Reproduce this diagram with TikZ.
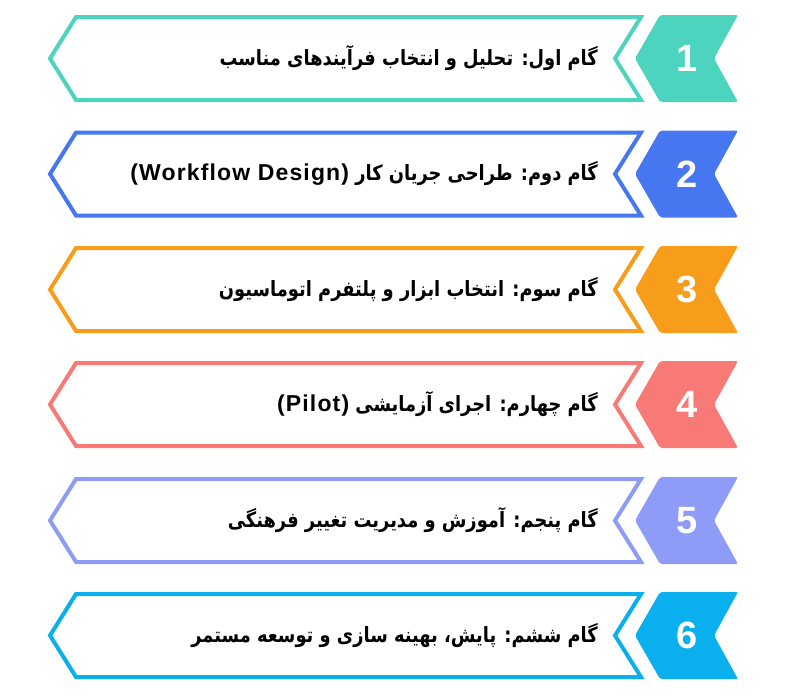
\documentclass[tikz,border=0pt]{standalone}
\usepackage{fontspec}
\setmainfont{Liberation Sans}
\newfontfamily\farsifont[Script=Arabic, FakeStretch=0.85]{DejaVu Sans}
\newfontfamily\latinfont[LetterSpace=5]{Liberation Sans}
\TeXXeTstate=1
\definecolor{stepteal}{HTML}{4DD4BE}
\definecolor{stepblue}{HTML}{4676F0}
\definecolor{steporange}{HTML}{F89C1C}
\definecolor{stepred}{HTML}{F87A76}
\definecolor{stepviolet}{HTML}{8E9CF8}
\definecolor{stepsky}{HTML}{0AB0EE}
\begin{document}
\begin{tikzpicture}[x=1pt,y=-1pt,
    stepbox/.style={line width=4pt, fill=white, line join=miter},
    badge/.style={rounded corners=2pt},
    steptext/.style={anchor=east, inner sep=0pt, font=\farsifont\bfseries\fontsize{21}{24}\selectfont},
    stepnum/.style={text=white, inner sep=0pt, font=\bfseries\fontsize{38}{40}\selectfont}]
    \useasboundingbox (0,0) rectangle (787,699);

    % One row per step: outlined box, filled chevron, number and text
    \foreach \i/\c/\col/\txt in {
        1/58.5/stepteal/{گام اول: تحلیل و انتخاب فرآیندهای مناسب},
        2/174/stepblue/{گام دوم: طراحی جریان کار \beginL{\latinfont\bfseries\fontsize{23}{26}\selectfont (Workflow Design)}\endL},
        3/289.5/steporange/{گام سوم: انتخاب ابزار و پلتفرم اتوماسیون},
        4/404.5/stepred/{گام چهارم: اجرای آزمایشی \beginL{\latinfont\bfseries\fontsize{23}{26}\selectfont (Pilot)}\endL},
        5/520.5/stepviolet/{گام پنجم: آموزش و مدیریت تغییر فرهنگی},
        6/635.5/stepsky/{گام ششم: پایش، بهینه سازی و توسعه مستمر}} {
        \draw[stepbox, draw=\col] (50,\c) -- (76,\c-41.5) -- (641,\c-41.5) -- (615,\c)
            -- (641,\c+41.5) -- (76,\c+41.5) -- cycle;
        \fill[badge, \col] (635,\c) -- (660,\c-43.5) -- (738,\c-43.5) -- (714,\c)
            -- (738,\c+43.5) -- (660,\c+43.5) -- cycle;
        \node[stepnum] (num\i) at (687,\c) {\i};
        \node[steptext] (text\i) at (598,\c) {\beginR\txt\endR};
    }
\end{tikzpicture}
\end{document}
